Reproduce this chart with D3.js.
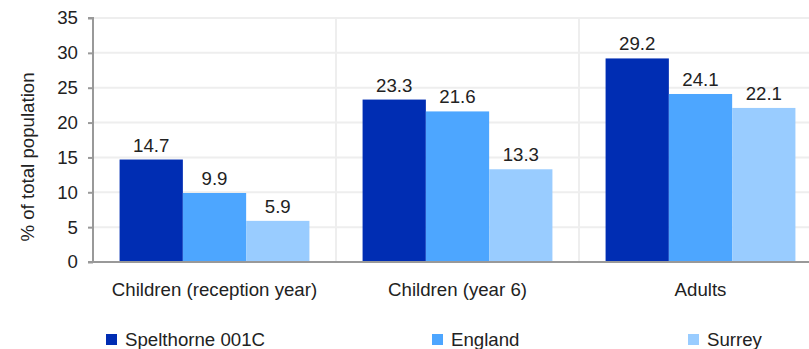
<!DOCTYPE html>
<html><head><meta charset="utf-8">
<script src="https://cdn.jsdelivr.net/npm/d3@7"></script>
<style>body{margin:0;background:#fff;} svg{display:block;font-family:"Liberation Sans",Arial,sans-serif;}</style>
</head><body>
<svg id="c" width="809" height="349"></svg>
<script>
const categories = ["Children (reception year)", "Children (year 6)", "Adults"];
const seriesNames = ["Spelthorne 001C", "England", "Surrey"];
const spelthorne = [14.7, 23.3, 29.2];
const england = [9.9, 21.6, 24.1];
const surrey = [5.9, 13.3, 22.1];
const yTicks = [0, 5, 10, 15, 20, 25, 30, 35];
const colors = ["#002db3", "#4da6ff", "#99ccff"];
const seriesValues = [spelthorne, england, surrey];

const FS = 18.67;
const svg = d3.select("#c");
const mLeft = 93, mRight = 822, mTop = 18, mBottom = 262;
const x = d3.scaleBand().domain(categories).range([mLeft, mRight]).paddingInner(0).paddingOuter(0);
const xs = d3.scaleBand().domain(seriesNames).range([0, x.bandwidth()]).paddingInner(0).paddingOuter(0.42);
const y = d3.scaleLinear().domain([0, 35]).range([mBottom, mTop]);

// horizontal gridlines
svg.append("g").selectAll("line").data(yTicks.filter(d => d > 0)).join("line")
  .attr("x1", mLeft).attr("x2", mRight).attr("y1", d => y(d)).attr("y2", d => y(d))
  .attr("stroke", "#eeeeee").attr("stroke-width", 2);
// vertical gridlines between categories
svg.append("g").selectAll("line").data(categories.slice(1)).join("line")
  .attr("x1", d => x(d)).attr("x2", d => x(d)).attr("y1", mTop).attr("y2", mBottom)
  .attr("stroke", "#eeeeee").attr("stroke-width", 2);

// bars
const groups = svg.append("g").selectAll("g").data(categories).join("g")
  .attr("transform", d => `translate(${x(d)},0)`);
seriesNames.forEach((s, si) => {
  groups.append("rect")
    .attr("x", xs(s)).attr("width", xs.bandwidth())
    .attr("y", (d, i) => y(seriesValues[si][i]))
    .attr("height", (d, i) => mBottom - y(seriesValues[si][i]))
    .attr("fill", colors[si]);
  groups.append("text")
    .attr("x", xs(s) + xs.bandwidth() / 2)
    .attr("y", (d, i) => y(seriesValues[si][i]) - 8)
    .attr("text-anchor", "middle").attr("font-size", FS).attr("fill", "#222")
    .text((d, i) => seriesValues[si][i].toFixed(1));
});

// y axis
const yAxis = d3.axisLeft(y).tickValues(yTicks).tickSize(5).tickPadding(10);
const ya = svg.append("g").attr("transform", `translate(${mLeft},0)`).call(yAxis);
ya.select(".domain").attr("stroke", "#999").attr("stroke-width", 2).attr("d", `M-5,${mTop}H0V${mBottom}`);
ya.selectAll(".tick line").attr("stroke", "#999").attr("stroke-width", 2);
ya.selectAll(".tick text").attr("font-size", FS).attr("fill", "#222").attr("font-family", "Liberation Sans, Arial, sans-serif");

// x axis
const xAxis = d3.axisBottom(x).tickSize(0).tickPadding(21);
const xa = svg.append("g").attr("transform", `translate(0,${mBottom})`).call(xAxis);
xa.select(".domain").attr("stroke", "#999").attr("stroke-width", 2).attr("d", `M${mLeft - 5},0H${mRight}`);
xa.selectAll(".tick text").attr("font-size", FS).attr("fill", "#222").attr("font-family", "Liberation Sans, Arial, sans-serif");

// y title
svg.append("text").attr("transform", `translate(34,157) rotate(-90)`)
  .attr("text-anchor", "middle").attr("font-size", FS).attr("fill", "#222")
  .text("% of total population");

// legend
const legendX = [106, 432, 688];
const lg = svg.append("g").selectAll("g").data(seriesNames).join("g")
  .attr("transform", (d, i) => `translate(${legendX[i]},334)`);
lg.append("rect").attr("width", 11).attr("height", 11).attr("fill", (d, i) => colors[i]);
lg.append("text").attr("x", 19).attr("y", 12).attr("font-size", FS).attr("fill", "#222").text(d => d);
</script>
</body></html>
